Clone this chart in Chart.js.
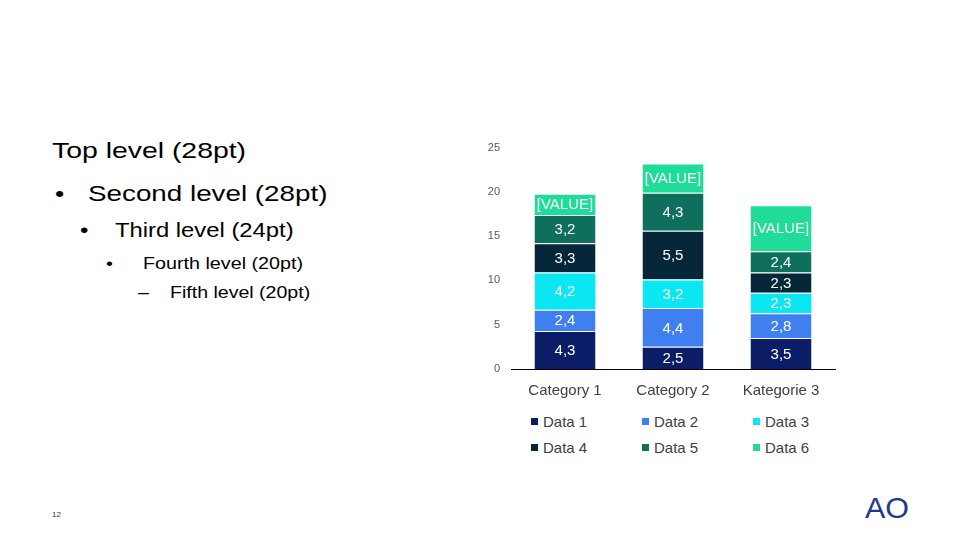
<!DOCTYPE html>
<html>
<head>
<meta charset="utf-8">
<script src="https://cdn.jsdelivr.net/npm/chart.js@4"></script>
<style>
  html, body { margin: 0; padding: 0; background: #fff; }
  body { width: 960px; height: 540px; position: relative; overflow: hidden; font-family: "Liberation Sans", Arial, sans-serif; }
  .t { position: absolute; white-space: nowrap; line-height: 1; color: #000; transform-origin: left top; }
  #chartBox { position: absolute; left: 460px; top: 130px; width: 390px; height: 272px; }
  .leg { position: absolute; font-size: 15px; line-height: 1; color: #404040; white-space: nowrap; }
  .leg i { position: absolute; width: 7px; height: 7px; left: -12px; top: 4px; }
</style>
</head>
<body>

<div class="t" style="left:52px; top:140px; font-size:22px; transform:scaleX(1.29)">Top level (28pt)</div>
<div class="t" style="left:55px; top:183px; font-size:22px; transform:scaleX(1.2)">•</div>
<div class="t" style="left:88px; top:183px; font-size:22.5px; transform:scaleX(1.235)">Second level (28pt)</div>
<div class="t" style="left:80px; top:220px; font-size:20px; transform:scaleX(1.2)">•</div>
<div class="t" style="left:115px; top:220px; font-size:20px; transform:scaleX(1.19)">Third level (24pt)</div>
<div class="t" style="left:106px; top:255px; font-size:17px; transform:scaleX(1.16)">•</div>
<div class="t" style="left:143px; top:255px; font-size:17px; transform:scaleX(1.16)">Fourth level (20pt)</div>
<div class="t" style="left:138px; top:284px; font-size:17px; transform:scaleX(1.15)">–</div>
<div class="t" style="left:170px; top:284px; font-size:17px; transform:scaleX(1.15)">Fifth level (20pt)</div>

<div class="t" style="left:52px; top:511px; font-size:8px; color:#333">12</div>
<div class="t" style="left:865px; top:494px; font-size:29px; color:#1d3a8f; transform:scaleX(1.05)">AO</div>

<div id="chartBox"><canvas id="chart"></canvas></div>
<div id="legend"></div>

<script>
// chart values
const categories = ['Category 1', 'Category 2', 'Kategorie 3'];
const seriesNames = ['Data 1', 'Data 2', 'Data 3', 'Data 4', 'Data 5', 'Data 6'];
const data1 = [4.3, 2.5, 3.5];
const data2 = [2.4, 4.4, 2.8];
const data3 = [4.2, 3.2, 2.3];
const data4 = [3.3, 5.5, 2.3];
const data5 = [3.2, 4.3, 2.4];
const data6 = [2.4, 3.3, 5.2];
const yTicks = [0, 5, 10, 15, 20, 25];
const seriesColors = ['#0b1d66', '#3f7fef', '#0ae6f2', '#06263a', '#0d6f5c', '#1fdc98'];

const allSeries = [data1, data2, data3, data4, data5, data6];

// labels drawn in the middle of each segment (Data 6 shows the placeholder text)
const segmentLabels = {
    id: 'segmentLabels',
    afterDatasetsDraw(chart) {
        const ctx = chart.ctx;
        ctx.save();
        ctx.font = '15px "Liberation Sans", Arial, sans-serif';
        ctx.fillStyle = '#ffffff';
        ctx.textAlign = 'center';
        ctx.textBaseline = 'middle';
        chart.data.datasets.forEach((ds, i) => {
            const meta = chart.getDatasetMeta(i);
            meta.data.forEach((bar, j) => {
                const text = i === 5 ? '[VALUE]' : String(ds.data[j]).replace('.', ',');
                ctx.fillText(text, bar.x, (bar.y + bar.base) / 2 + 1);
            });
        });
        ctx.restore();
    }
};

new Chart(document.getElementById('chart'), {
    type: 'bar',
    data: {
        labels: categories,
        datasets: allSeries.map((vals, i) => ({
            label: seriesNames[i],
            data: vals,
            backgroundColor: seriesColors[i],
            borderColor: '#ffffff',
            borderWidth: { top: 1, right: 0, bottom: 0, left: 0 },
            borderSkipped: false,
            categoryPercentage: 1,
            barPercentage: 0.565
        }))
    },
    options: {
        responsive: true,
        maintainAspectRatio: false,
        animation: false,
        layout: { padding: { top: 14, right: 15, left: 0, bottom: 0 } },
        plugins: {
            legend: { display: false },
            tooltip: { enabled: false }
        },
        scales: {
            x: {
                stacked: true,
                grid: { display: false, drawTicks: false },
                border: { display: true, color: '#000000', width: 1 },
                ticks: {
                    color: '#404040',
                    padding: 13,
                    font: { family: '"Liberation Sans", Arial, sans-serif', size: 15 }
                },
                afterFit(scale) { scale.height = 33; }
            },
            y: {
                stacked: true,
                min: 0,
                max: 25,
                grid: { display: false, drawTicks: false },
                border: { display: false },
                afterBuildTicks(scale) { scale.ticks = yTicks.map(v => ({ value: v })); },
                ticks: {
                    color: '#595959',
                    padding: 11,
                    font: { family: '"Liberation Sans", Arial, sans-serif', size: 11 }
                },
                afterFit(scale) { scale.width = 51; }
            }
        }
    },
    plugins: [segmentLabels]
});

// legend in two rows of three, under the categories
const legend = document.getElementById('legend');
const colLeft = [543, 654, 765];
const rowTop = [414, 440];
seriesNames.forEach((name, i) => {
    const d = document.createElement('div');
    d.className = 'leg';
    d.style.left = colLeft[i % 3] + 'px';
    d.style.top = rowTop[Math.floor(i / 3)] + 'px';
    d.innerHTML = '<i style="background:' + seriesColors[i] + '"></i>' + name;
    legend.appendChild(d);
});
</script>
</body>
</html>
